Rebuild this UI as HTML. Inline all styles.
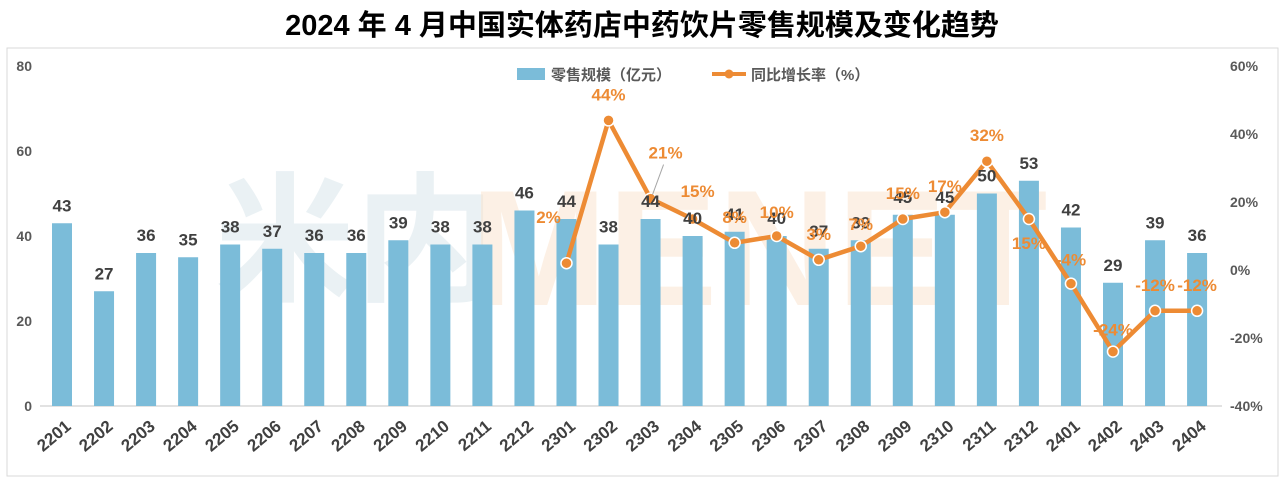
<!DOCTYPE html>
<html><head><meta charset="utf-8"><style>
body{margin:0;background:#fff;}
svg{display:block;font-family:"Liberation Sans","Noto Sans CJK SC",sans-serif;}
</style></head><body>
<svg id="chart" width="1285" height="481" viewBox="0 0 1285 481">
<text x="642" y="35" text-anchor="middle" font-size="29" font-weight="bold" fill="#000">2024 年 4 月中国实体药店中药饮片零售规模及变化趋势</text>
<rect x="7" y="48" width="1271" height="428" fill="none" stroke="#d9d9d9"/>
<text x="215" y="290" font-size="140" font-weight="bold" fill="#d6e4ea" opacity="0.5">米内</text>
<text x="470" y="305" font-size="165" font-weight="bold" fill="#fbe3cc" opacity="0.5">MENET</text>
<g id="axes"></g><g id="bars"></g><g id="line"></g><g id="labels"></g>
<g>
<rect x="517" y="68" width="28" height="12" fill="#7bbcd9"/>
<text x="551" y="80" font-size="15" font-weight="bold" fill="#595959">零售规模（亿元）</text>
<line x1="712" y1="74" x2="746" y2="74" stroke="#ed8b34" stroke-width="4"/>
<circle cx="729" cy="74" r="4.5" fill="#ed8b34"/>
<text x="751" y="80" font-size="15" font-weight="bold" fill="#595959">同比增长率（%）</text>
</g>
</svg>
<script>
const categories=["2201","2202","2203","2204","2205","2206","2207","2208","2209","2210","2211","2212","2301","2302","2303","2304","2305","2306","2307","2308","2309","2310","2311","2312","2401","2402","2403","2404"];
const sales=[43,27,36,35,38,37,36,36,39,38,38,46,44,38,44,40,41,40,37,39,45,45,50,53,42,29,39,36];
const growth=[null,null,null,null,null,null,null,null,null,null,null,null,2,44,21,15,8,10,3,7,15,17,32,15,-4,-24,-12,-12];
const leftTicks=[0,20,40,60,80];
const rightTicks=[-40,-20,0,20,40,60];
const labelOffsets=[[-18,-40],[0,-20],[15,-40],[5,-22],[0,-20],[0,-18],[0,-20],[0,-16],[0,-20],[0,-20],[0,-20],[0,30],[0,-18],[0,-16],[0,-20],[0,-20]];
const NS="http://www.w3.org/2000/svg";
const X0=62,DX=42.04,YB=406,YT=66;
const xs=i=>X0+i*DX;
const yL=v=>YB-(v-0)/80*(YB-YT);
const yR=v=>YB-(v+40)/100*(YB-YT);
function mk(tag,attrs,parent,text){const e=document.createElementNS(NS,tag);for(const k in attrs)e.setAttribute(k,attrs[k]);if(text!==undefined)e.textContent=text;parent.appendChild(e);return e;}
const axes=document.getElementById('axes'),bars=document.getElementById('bars'),line=document.getElementById('line'),labels=document.getElementById('labels');
let e=mk('line',{x1:40,y1:YB,x2:1222,y2:YB,stroke:'#d9d9d9','stroke-width':1.5},axes);


leftTicks.forEach(t=>{const el=mk('text',{x:32,y:yL(t)+5,'text-anchor':'end','font-size':14,'font-weight':'bold',fill:'#595959'},axes,String(t));

});
rightTicks.forEach(t=>{const el=mk('text',{x:1230,y:yR(t)+5,'font-size':14,'font-weight':'bold',fill:'#595959'},axes,t+'%');

});
categories.forEach((c,i)=>{const x=xs(i);const el=mk('text',{x:x+10,y:428,'text-anchor':'end','font-size':17,'font-weight':'bold',fill:'#404040',transform:`rotate(-40 ${x+10} 428)`},axes,c);


const b=mk('rect',{x:x-10,y:yL(sales[i]),width:20,height:YB-yL(sales[i]),fill:'#7bbcd9'},bars);


const t=mk('text',{x:x,y:yL(sales[i])-12,'text-anchor':'middle','font-size':17,'font-weight':'bold',fill:'#404040'},labels,String(sales[i]));

});
let pts=[];growth.forEach((g,i)=>{if(g!==null)pts.push([xs(i),yR(g),g,i]);});
const pl=mk('polyline',{points:pts.map(p=>p[0]+','+p[1]).join(' '),fill:'none',stroke:'#ed8b34','stroke-width':4.5,'stroke-linejoin':'round'},line);


pts.forEach((p,k)=>{const c=mk('circle',{cx:p[0],cy:p[1],r:5.5,fill:'#ed8b34',stroke:'#fff','stroke-width':1.5},line);


const o=labelOffsets[k]||[0,-20];
if(k===2){const ld=mk('line',{x1:p[0]+2,y1:p[1]-4,x2:p[0]+13,y2:p[1]-34,stroke:'#a6a6a6','stroke-width':1},labels);

}
const t=mk('text',{x:p[0]+o[0],y:p[1]+o[1],'text-anchor':'middle','font-size':17,'font-weight':'bold',fill:'#ed8b34'},labels,p[2]+'%');

});
</script>
</body></html>
